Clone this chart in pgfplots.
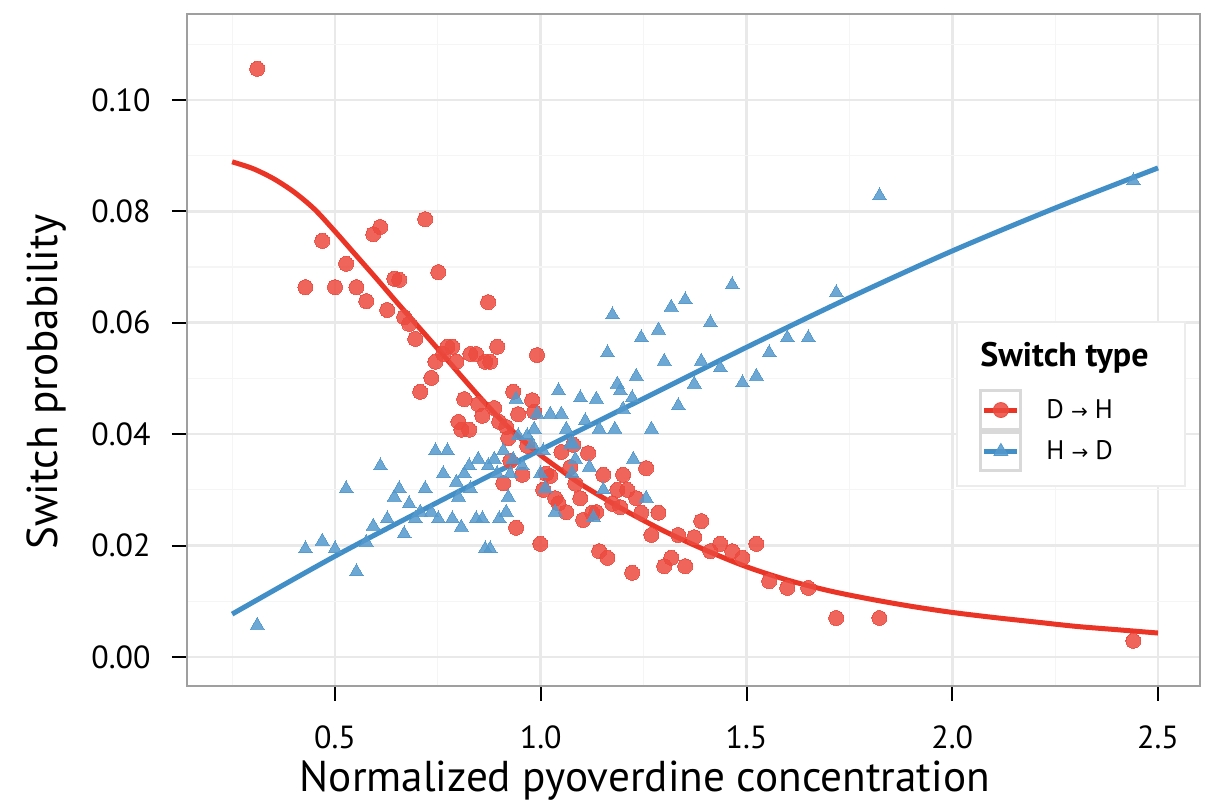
\documentclass[border=0pt]{standalone}
\usepackage{pgfplots}
\pgfplotsset{compat=1.18}
\usepackage{pgfplotstable}
\usepackage{fontspec}
\setmainfont{PT Sans}
\newfontfamily\arrowfont{DejaVu Sans}
\definecolor{ptred}{RGB}{236,74,62}
\definecolor{lnred}{RGB}{233,52,38}
\definecolor{ptblue}{RGB}{84,153,204}
\definecolor{lnblue}{RGB}{66,142,199}
\newcommand{\arr}{{\arrowfont\fontsize{10}{12}\selectfont →}}

\pgfplotstableread{
x y
0.311 0.1056
0.428 0.0664
0.469 0.0747
0.500 0.0664
0.527 0.0706
0.552 0.0664
0.576 0.0639
0.593 0.0759
0.610 0.0772
0.627 0.0623
0.644 0.0679
0.656 0.0677
0.668 0.0610
0.680 0.0598
0.695 0.0571
0.707 0.0476
0.719 0.0786
0.734 0.0501
0.744 0.0530
0.751 0.0691
0.763 0.0544
0.773 0.0557
0.785 0.0557
0.795 0.0530
0.800 0.0422
0.807 0.0408
0.814 0.0463
0.826 0.0408
0.829 0.0544
0.843 0.0544
0.848 0.0454
0.858 0.0433
0.865 0.0530
0.872 0.0637
0.877 0.0530
0.887 0.0447
0.894 0.0557
0.899 0.0422
0.909 0.0312
0.916 0.0413
0.921 0.0393
0.926 0.0352
0.933 0.0476
0.940 0.0232
0.945 0.0436
0.955 0.0327
0.967 0.0379
0.979 0.0461
0.984 0.0440
0.991 0.0542
0.999 0.0203
1.006 0.0300
1.013 0.0329
1.023 0.0325
1.035 0.0285
1.043 0.0276
1.050 0.0368
1.062 0.0260
1.072 0.0341
1.079 0.0381
1.084 0.0311
1.096 0.0285
1.103 0.0246
1.115 0.0366
1.125 0.0259
1.135 0.0260
1.142 0.0190
1.152 0.0327
1.162 0.0178
1.174 0.0275
1.186 0.0300
1.193 0.0269
1.200 0.0327
1.210 0.0300
1.222 0.0151
1.232 0.0285
1.244 0.0259
1.256 0.0339
1.269 0.0219
1.286 0.0259
1.300 0.0163
1.317 0.0178
1.334 0.0219
1.351 0.0163
1.373 0.0215
1.390 0.0244
1.412 0.0190
1.436 0.0203
1.465 0.0190
1.490 0.0178
1.524 0.0203
1.555 0.0136
1.599 0.0124
1.650 0.0124
1.718 0.0070
1.823 0.0070
2.440 0.0029
}\dhpts

\pgfplotstableread{
x y
0.311 0.0057
0.428 0.0194
0.469 0.0208
0.500 0.0194
0.527 0.0302
0.552 0.0153
0.576 0.0206
0.593 0.0235
0.610 0.0343
0.627 0.0248
0.644 0.0287
0.656 0.0302
0.668 0.0221
0.680 0.0275
0.695 0.0248
0.707 0.0260
0.719 0.0302
0.734 0.0260
0.744 0.0370
0.751 0.0248
0.763 0.0329
0.773 0.0370
0.785 0.0248
0.795 0.0314
0.800 0.0287
0.807 0.0233
0.814 0.0329
0.826 0.0343
0.829 0.0302
0.843 0.0248
0.848 0.0355
0.858 0.0248
0.865 0.0194
0.872 0.0343
0.877 0.0194
0.887 0.0355
0.894 0.0329
0.899 0.0248
0.909 0.0370
0.916 0.0260
0.921 0.0287
0.926 0.0329
0.933 0.0355
0.940 0.0463
0.945 0.0397
0.955 0.0343
0.967 0.0397
0.979 0.0382
0.984 0.0409
0.991 0.0436
0.999 0.0329
1.006 0.0370
1.011 0.0303
1.023 0.0436
1.035 0.0260
1.043 0.0478
1.050 0.0436
1.062 0.0409
1.072 0.0382
1.076 0.0330
1.079 0.0382
1.084 0.0355
1.096 0.0465
1.108 0.0424
1.135 0.0463
1.118 0.0341
1.128 0.0250
1.142 0.0409
1.152 0.0300
1.162 0.0546
1.174 0.0614
1.186 0.0490
1.193 0.0478
1.200 0.0445
1.180 0.0409
1.225 0.0355
1.222 0.0465
1.232 0.0504
1.244 0.0573
1.256 0.0285
1.269 0.0409
1.286 0.0587
1.300 0.0531
1.317 0.0628
1.334 0.0451
1.351 0.0641
1.373 0.0490
1.390 0.0531
1.412 0.0600
1.436 0.0519
1.465 0.0668
1.490 0.0492
1.524 0.0504
1.555 0.0546
1.599 0.0573
1.650 0.0573
1.718 0.0654
1.823 0.0828
2.440 0.0855
}\hdpts

\pgfplotstableread{
x y
0.25 0.0889
0.30 0.0877
0.35 0.0859
0.40 0.0835
0.45 0.0804
0.50 0.0764
0.55 0.0722
0.60 0.0680
0.65 0.0637
0.70 0.0595
0.75 0.0553
0.80 0.0510
0.85 0.0468
0.90 0.0428
0.95 0.0393
1.00 0.0362
1.05 0.0335
1.10 0.0309
1.20 0.0265
1.30 0.0226
1.40 0.0192
1.50 0.0162
1.60 0.0138
1.70 0.0119
1.80 0.0104
1.90 0.0091
2.00 0.0080
2.10 0.0071
2.20 0.0063
2.30 0.0055
2.40 0.0049
2.50 0.0043
}\dhfit

\pgfplotstableread{
x y
0.25 0.0077
0.50 0.0181
0.75 0.0278
1.00 0.0372
1.25 0.0464
1.50 0.0556
1.75 0.0645
2.00 0.0729
2.25 0.0806
2.50 0.0878
}\hdfit

\begin{document}
\begin{tikzpicture}
\begin{axis}[
  name=ax,
  scale only axis,
  width=506.5pt, height=336pt,
  xmin=0.1403, xmax=2.602,
  ymin=-0.00521, ymax=0.11544,
  xtick={0.5,1.0,1.5,2.0,2.5},
  ytick={0,0.02,0.04,0.06,0.08,0.10},
  minor xtick={0.25,0.75,1.25,1.75,2.25},
  minor ytick={0.01,0.03,0.05,0.07,0.09,0.11},
  grid=both,
  major grid style={gray!17, line width=1.3pt},
  minor grid style={gray!8, line width=0.6pt},
  axis line style={gray!75, line width=1.2pt},
  tick align=outside,
  xtick pos=bottom, ytick pos=left,
  major tick length=7.5pt,
  minor tick length=0pt,
  tick style={black, line width=1pt},
  /pgf/number format/assume math mode=true,
  xticklabel style={/pgf/number format/.cd, fixed, fixed zerofill, precision=1, /tikz/.cd, font=\fontsize{16}{18}\selectfont, inner sep=0pt, yshift=-12pt},
  yticklabel style={/pgf/number format/.cd, fixed, fixed zerofill, precision=2, /tikz/.cd, font=\fontsize{16}{18}\selectfont, inner sep=0pt, xshift=-10.5pt},
  scaled y ticks=false,
  xlabel={Normalized pyoverdine concentration},
  ylabel={Switch probability},
  xlabel style={at={(rel axis cs:0.452,-0.1577)}, anchor=base, font=\fontsize{21.6}{24}\selectfont, inner sep=0pt},
  ylabel style={at={(rel axis cs:-0.1283,0.452)}, anchor=base, rotate=0, font=\fontsize{21.6}{24}\selectfont, inner sep=0pt},
  legend style={at={(rel axis cs:0.7818,0.4420)}, anchor=north west, draw=none, fill=none,
    inner xsep=0pt, inner ysep=0pt, row sep=0pt, column sep=10pt,
    font=\fontsize{13.4}{16}\selectfont, cells={anchor=west}},
  legend cell align=left,
]
\addplot[only marks, mark=*, mark size=3.75pt, mark options={draw=ptred, fill=ptred, opacity=0.85, line width=0pt}, forget plot] table {\dhpts};
\addplot[only marks, mark=triangle*, mark size=4pt, mark options={draw=ptblue, fill=ptblue, opacity=0.85, line width=0pt}, forget plot] table {\hdpts};
\addplot[lnred, line width=2.5pt, smooth, forget plot] table {\dhfit};
\addplot[lnblue, line width=2.5pt, smooth, forget plot] table {\hdfit};
\fill[white] (rel axis cs:0.7601,0.2976) rectangle (rel axis cs:0.9852,0.5417);
\draw[gray!15, line width=0.8pt] (rel axis cs:0.7601,0.2976) rectangle (rel axis cs:0.9852,0.5417);
\node[anchor=base west, inner sep=0pt, font=\fontsize{17}{20}\selectfont\bfseries] at (rel axis cs:0.7828,0.4747) {Switch type};
\addlegendimage{legend image code/.code={
  \draw[gray!30, line width=1.5pt, fill=white] (0pt,-9.6pt) rectangle (20pt,9.6pt);
  \draw[lnred, line width=2.5pt] (1.75pt,0pt) -- (18.25pt,0pt);
  \fill[ptred, fill opacity=0.85] (10pt,0pt) circle (3.75pt);}}
\addlegendentry{D \arr{} H}
\addlegendimage{legend image code/.code={
  \draw[gray!30, line width=1.5pt, fill=white] (0pt,-9.6pt) rectangle (20pt,9.6pt);
  \draw[lnblue, line width=2.5pt] (1.75pt,0pt) -- (18.25pt,0pt);
  \fill[ptblue, fill opacity=0.85] (10pt,4pt) -- (6.54pt,-2pt) -- (13.46pt,-2pt) -- cycle;}}
\addlegendentry{H \arr{} D}
\end{axis}
\pgfresetboundingbox
\path (ax.south west) ++(-93.5pt,-57.5pt) coordinate (bbA);
\path (ax.north east) ++(7pt,7pt) coordinate (bbB);
\useasboundingbox (bbA) rectangle (bbB);
\end{tikzpicture}
\end{document}
